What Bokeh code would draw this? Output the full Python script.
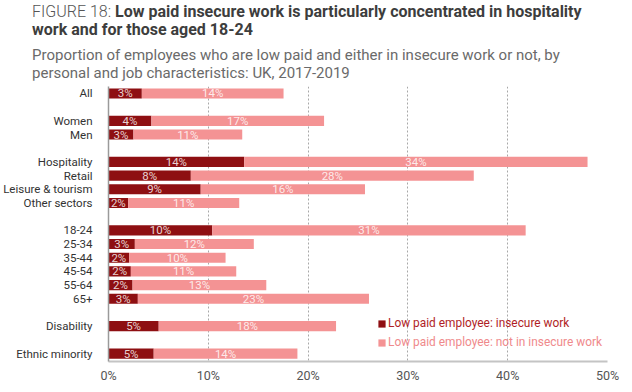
from bokeh.plotting import figure
from bokeh.models import (ColumnDataSource, Range1d, FixedTicker, LabelSet,
                          Legend, LegendItem, Div)
from bokeh.layouts import column
from bokeh.core.properties import value
from bokeh.embed import file_html
from bokeh.resources import INLINE

# ---- data -------------------------------------------------------------
groups = [
    ["All"],
    ["Women", "Men"],
    ["Hospitality", "Retail", "Leisure & tourism", "Other sectors"],
    ["18-24", "25-34", "35-44", "45-54", "55-64", "65+"],
    ["Disability"],
    ["Ethnic minority"],
]
insecure = [3.34, 4.3, 2.5, 13.6, 8.25, 9.24, 1.97, 10.4, 2.64, 2.07, 2.24, 2.41,
            2.94, 5.03, 4.53]
not_insecure = [14.2, 17.3, 10.9, 34.4, 28.35, 16.46, 11.13, 31.4, 11.92, 9.66,
                10.56, 13.4, 23.16, 17.77, 14.4]
x_ticks = [0, 10, 20, 30, 40, 50]
x_tick_labels = ["0%", "10%", "20%", "30%", "40%", "50%"]
series_names = ["Low paid employee: insecure work",
                "Low paid employee: not in insecure work"]
title_prefix = "FIGURE 18:"
title_main = ["Low paid insecure work is particularly concentrated in hospitality",
              "work and for those aged 18-24"]
subtitle = ["Proportion of employees who are low paid and either in insecure work or not, by",
            "personal and job characteristics: UK, 2017-2019"]

# ---- row layout -----------------------------------------------------------
categories, rows = [], []
pos = 0
for g in groups:
    for c in g:
        categories.append(c)
        rows.append(pos)
        pos += 1
    pos += 1
last_row = rows[-1]

DARK = "#8e0f12"
LIGHT = "#f49394"
FONT = "Roboto"

PAGE_W, PAGE_H = 632, 392
HEAD_H = 80
HEAD_LEFT = 32
W, H = PAGE_W, PAGE_H - HEAD_H
FRAME_LEFT, FRAME_RIGHT, FRAME_TOP, FRAME_BOTTOM = 104, 607, 86, 361
ML = FRAME_LEFT
MR = PAGE_W - FRAME_RIGHT
MT = FRAME_TOP - HEAD_H
MB = PAGE_H - FRAME_BOTTOM

# ---- header ---------------------------------------------------------------
head_html = (
    f'<div style="font-family:Roboto, sans-serif;white-space:nowrap;">'
    f'<div style="font-size:16px;line-height:18px;color:#3d3d3d;margin-top:3px;">'
    f'<span style="color:#555555;font-weight:300;">{title_prefix}</span> '
    f'<span style="font-weight:bold;">{title_main[0]}</span><br>'
    f'<span style="font-weight:bold;">{title_main[1]}</span></div>'
    f'<div style="font-size:15px;line-height:18px;color:#6a6a6a;margin-top:7px;">'
    f'{subtitle[0]}<br>{subtitle[1]}</div></div>'
)
head = Div(text=head_html, width=PAGE_W - HEAD_LEFT, height=HEAD_H,
           margin=(0, 0, 0, HEAD_LEFT))

# ---- chart ----------------------------------------------------------------
src = ColumnDataSource(dict(
    y=rows,
    cat=categories,
    ins=insecure,
    tot=[a + b for a, b in zip(insecure, not_insecure)],
    mid1=[a / 2 for a in insecure],
    mid2=[a + b / 2 for a, b in zip(insecure, not_insecure)],
    lab1=[f"{int(a + 0.5)}%" for a in insecure],
    lab2=[f"{int(b + 0.5)}%" for b in not_insecure],
))

p = figure(width=W, height=H, output_backend="svg", toolbar_location=None,
           x_range=Range1d(0, 50), y_range=Range1d(last_row + 0.58, -0.51),
           min_border_left=ML, min_border_right=MR, min_border_top=MT,
           min_border_bottom=MB, outline_line_color=None, margin=0)

# grid
p.ygrid.visible = False
p.xgrid.ticker = FixedTicker(ticks=x_ticks[1:])
p.xgrid.grid_line_color = "#a8a8a8"
p.xgrid.grid_line_dash = "2 2"
p.xgrid.grid_line_width = 1

# x axis
p.xaxis.ticker = FixedTicker(ticks=x_ticks)
p.xaxis.major_label_overrides = {t: l for t, l in zip(x_ticks, x_tick_labels)}
p.xaxis.major_tick_line_color = None
p.xaxis.minor_tick_line_color = None
p.xaxis.axis_line_color = "#c4c4c4"
p.xaxis.axis_line_width = 2
p.xaxis.major_label_standoff = 0
p.xaxis.major_label_text_font = FONT
p.xaxis.major_label_text_font_size = "12.5px"
p.xaxis.major_label_text_color = "#555555"

# y axis = category labels
p.yaxis.ticker = FixedTicker(ticks=rows)
p.yaxis.major_label_overrides = {r: c for r, c in zip(rows, categories)}
p.yaxis.major_tick_line_color = None
p.yaxis.minor_tick_line_color = None
p.yaxis.axis_line_color = "#9a9a9a"
p.yaxis.axis_line_width = 1.5
p.yaxis.major_label_standoff = 10
p.yaxis.major_label_text_font = FONT
p.yaxis.major_label_text_font_size = "11.5px"
p.yaxis.major_label_text_color = "#333333"

# bars
r1 = p.hbar(y="y", left=0, right="ins", height=0.74, source=src,
            fill_color=DARK, line_color=None)
r2 = p.hbar(y="y", left="ins", right="tot", height=0.74, source=src,
            fill_color=LIGHT, line_color=None)

# bar value labels
for xcol, lcol in (("mid1", "lab1"), ("mid2", "lab2")):
    p.add_layout(LabelSet(x=xcol, y="y", text=lcol, source=src,
                          text_align="center", text_baseline="middle",
                          text_color="white", text_alpha=0.82,
                          text_font=value(FONT), text_font_size="11.5px"))

# legends (one per series so each text keeps its own colour)
for r, name, col, py in ((r1, series_names[0], "#b01e26", 322),
                         (r2, series_names[1], "#ef8a8c", 341)):
    leg = Legend(items=[LegendItem(label=name, renderers=[r])],
                 location=(373 - FRAME_LEFT, FRAME_BOTTOM - py - 8),
                 border_line_color=None, background_fill_alpha=0,
                 padding=0, margin=0, glyph_width=9, glyph_height=9,
                 label_height=14, label_standoff=2,
                 label_text_font=FONT, label_text_font_size="11.9px",
                 label_text_color=col)
    p.add_layout(leg, "center")

layout = column(head, p, spacing=0, margin=0)
open("out.html", "w").write(file_html(layout, INLINE))
